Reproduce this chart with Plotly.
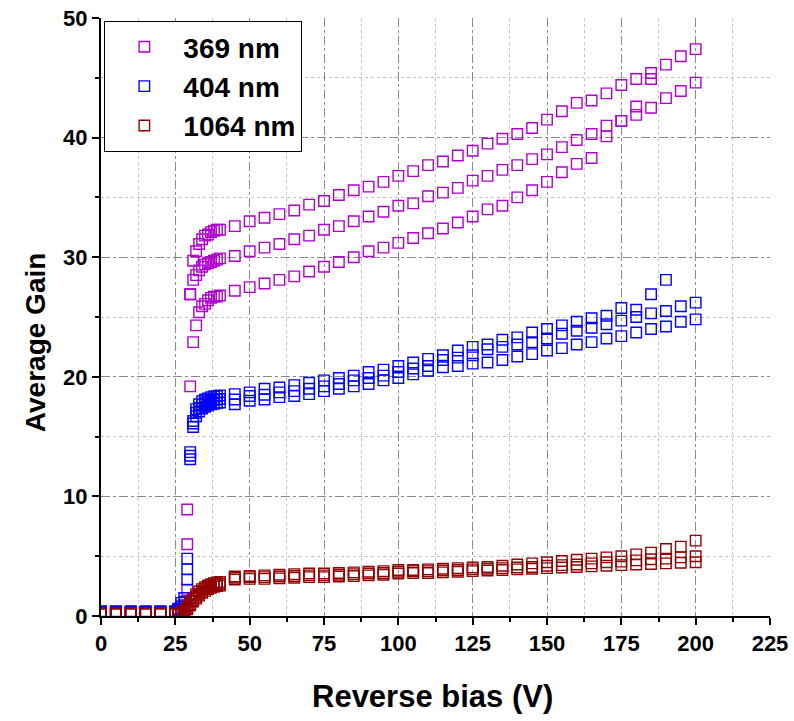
import plotly.graph_objects as go

# Reverse bias voltages (V)
V_LOW = [0, 5, 10, 15, 20, 25]
V_DENSE = list(range(26, 41))
V_HIGH = list(range(45, 201, 5))
VOLTAGE = V_LOW + V_DENSE + V_HIGH

# 369 nm - three sweeps
G369_A = [0.3] * 6 + [0.3, 0.4, 0.6, 8.9, 26.9, 29.7, 30.5, 31.1, 31.5, 31.8, 31.9, 32.1, 32.2, 32.3, 32.3] + \
    [32.6, 33.0, 33.3, 33.6, 33.9, 34.4, 34.7, 35.2, 35.6, 35.9, 36.3, 36.8,
     37.2, 37.7, 38.0, 38.5, 38.9, 39.5, 39.9, 40.3, 40.8, 41.5, 42.2, 42.9, 43.1, 43.7, 44.4, 44.9, 45.4, 46.1, 46.8, 47.4]
G369_B = [0.3] * 6 + [0.3, 0.4, 0.5, 6.0, 26.9, 28.1, 28.5, 28.9, 29.2, 29.4, 29.5, 29.6, 29.7, 29.8, 29.9] + \
    [30.1, 30.5, 30.8, 31.1, 31.5, 31.8, 32.3, 32.6, 33.0, 33.4, 33.8, 34.3,
     34.5, 35.1, 35.4, 35.8, 36.4, 36.8, 37.3, 37.7, 38.2, 38.6, 39.2, 39.8, 40.3, 41.0, 41.4, 41.9, 42.5, 43.3, 43.9, 44.6]
G369_C = [0.3] * 6 + [0.3, 0.3, 0.5, 2.2, 19.2, 22.9, 24.3, 25.4, 25.9, 26.1, 26.4, 26.6, 26.7, 26.7, 26.8] + \
    [27.2, 27.5, 27.8, 28.1, 28.4, 28.8, 29.2, 29.6, 30.0, 30.5, 30.8, 31.2,
     31.6, 32.0, 32.4, 32.9, 33.4, 34.0, 34.3, 35.0, 35.6, 36.3, 37.1, 37.8, 38.3, 40.1, 41.4, 42.6, 44.9, None, None, None]

# 404 nm - three sweeps
G404_A = [0.4] * 6 + [0.6, 1.1, 1.5, 4.8, 13.7, 16.3, 17.3, 17.7, 17.95, 18.1, 18.2, 18.3, 18.35, 18.4, 18.45] + \
    [18.55, 18.7, 19.0, 19.1, 19.3, 19.5, 19.7, 19.9, 20.1, 20.4, 20.6, 20.9,
     21.2, 21.5, 21.8, 22.2, 22.5, 22.7, 23.1, 23.3, 23.7, 24.0, 24.3, 24.6, 24.9, 25.1, 25.75, 25.6, 26.9, 28.1, None, None]
G404_B = [0.35] * 6 + [0.5, 0.8, 1.2, 3.9, 13.4, 16.1, 17.0, 17.4, 17.65, 17.8, 17.9, 18.0, 18.05, 18.1, 18.15] + \
    [18.1, 18.4, 18.5, 18.7, 18.8, 19.0, 19.2, 19.4, 19.7, 19.9, 20.1, 20.4,
     20.7, 20.9, 21.4, 21.6, 21.8, 22.3, 22.5, 22.7, 22.9, 23.2, 23.6, 23.85, 24.1, 24.4, 24.7, 25.0, 25.3, 25.5, 25.9, 26.2]
G404_C = [0.3] * 6 + [0.4, 0.6, 0.9, 3.05, 13.1, 15.8, 16.7, 17.1, 17.35, 17.5, 17.6, 17.7, 17.75, 17.8, 17.85] + \
    [17.7, 18.0, 18.1, 18.3, 18.4, 18.55, 18.8, 19.0, 19.2, 19.4, 19.7, 19.9,
     20.2, 20.5, 20.8, 20.9, 21.1, 21.2, 21.4, 21.7, 21.9, 22.2, 22.4, 22.7, 22.9, 23.2, 23.4, 23.7, 24.0, 24.2, 24.6, 24.8]

# 1064 nm - three sweeps
G1064_A = [0.25] * 6 + [0.2, 0.3, 0.45, 0.8, 1.2, 1.5, 1.8, 2.05, 2.25, 2.4, 2.55, 2.65, 2.75, 2.8, 2.85] + \
    [3.3, 3.35, 3.4, 3.45, 3.5, 3.55, 3.55, 3.6, 3.65, 3.7, 3.75, 3.85,
     3.85, 3.9, 3.95, 4.0, 4.05, 4.1, 4.2, 4.3, 4.4, 4.5, 4.6, 4.7, 4.8, 4.9, 5.0, 5.15, 5.3, 5.6, 5.8, 6.3]
G1064_B = [0.2] * 6 + [0.15, 0.25, 0.4, 0.65, 1.0, 1.3, 1.6, 1.85, 2.1, 2.25, 2.4, 2.5, 2.6, 2.65, 2.7] + \
    [3.2, 3.25, 3.25, 3.3, 3.35, 3.4, 3.4, 3.45, 3.5, 3.55, 3.6, 3.7,
     3.75, 3.75, 3.8, 3.85, 3.9, 3.95, 4.0, 4.05, 4.1, 4.2, 4.25, 4.3, 4.4, 4.5, 4.55, 4.65, 4.75, 4.8, 4.9, 5.0]
G1064_C = [0.15] * 6 + [0.1, 0.2, 0.3, 0.55, 0.9, 1.2, 1.45, 1.7, 1.95, 2.1, 2.25, 2.35, 2.45, 2.5, 2.55] + \
    [3.05, 3.1, 3.1, 3.15, 3.2, 3.25, 3.25, 3.3, 3.35, 3.4, 3.45, 3.55,
     3.6, 3.6, 3.65, 3.7, 3.75, 3.8, 3.85, 3.9, 3.95, 4.0, 4.05, 4.1, 4.15, 4.2, 4.25, 4.3, 4.35, 4.4, 4.45, 4.5]

SERIES = [
    ("369 nm", "#B000D0", [G369_A, G369_B, G369_C]),
    ("404 nm", "#0000FF", [G404_A, G404_B, G404_C]),
    ("1064 nm", "#920000", [G1064_A, G1064_B, G1064_C]),
]

X_TICKS = list(range(0, 226, 25))
Y_TICKS = list(range(0, 51, 10))
X_TITLE = "Reverse bias (V)"
Y_TITLE = "Average Gain"

FONT = "Liberation Sans, Arial, sans-serif"

fig = go.Figure()
for i, (name, color, sweeps) in enumerate(SERIES):
    xs, ys = [], []
    for s in sweeps:
        for v, g in zip(VOLTAGE, s):
            if g is not None:
                xs.append(v)
                ys.append(g)
    fig.add_trace(go.Scatter(
        x=xs, y=ys, mode="markers", name=name, legendgroup=name,
        marker=dict(symbol="square-open", size=10.5, color=color,
                    line=dict(width=1.4, color=color)),
    ))

axis_common = dict(
    showline=True, linecolor="black", linewidth=2, mirror=False,
    ticks="outside", ticklen=7, tickwidth=2, tickcolor="black",
    showgrid=True, gridcolor="#8a8a8a", gridwidth=1, griddash="dashdot",
    zeroline=False, automargin=False,
    tickfont=dict(family=FONT, size=22, color="black", weight="bold"),
)

fig.update_xaxes(
    range=[0, 225], tickvals=X_TICKS,
    minor=dict(dtick=12.5, tick0=0, ticks="outside", ticklen=4, tickwidth=2, tickcolor="black",
               showgrid=True, gridcolor="#c4c4c4", griddash="dot", gridwidth=1),
    **axis_common,
)
fig.update_yaxes(
    range=[0, 50], tickvals=Y_TICKS,
    minor=dict(dtick=5, tick0=0, ticks="outside", ticklen=4, tickwidth=2, tickcolor="black",
               showgrid=True, gridcolor="#c4c4c4", griddash="dot", gridwidth=1),
    **axis_common,
)

fig.add_annotation(text="<b>" + X_TITLE + "</b>", xref="paper", yref="paper",
                   x=0.495, y=-0.135, xanchor="center", yanchor="middle", showarrow=False,
                   font=dict(family=FONT, size=31, color="black"))
fig.add_annotation(text="<b>" + Y_TITLE + "</b>", xref="paper", yref="paper",
                   x=-0.098, y=0.457, xanchor="center", yanchor="middle", showarrow=False,
                   textangle=-90, font=dict(family=FONT, size=28, color="black"))

fig.update_layout(
    width=794, height=721,
    margin=dict(l=101, r=24, t=18, b=105),
    plot_bgcolor="white", paper_bgcolor="white",
    showlegend=True,
    legend=dict(
        x=0.005, y=0.995, xanchor="left", yanchor="top",
        bgcolor="white", bordercolor="black", borderwidth=1,
        font=dict(family=FONT, size=28, color="black", weight="bold"),
        itemwidth=68, traceorder="grouped", tracegroupgap=0,
    ),
)

fig.write_html("out.html", config={"displayModeBar": False},
               post_script="document.body.style.margin='0';document.body.style.overflow='hidden';")
